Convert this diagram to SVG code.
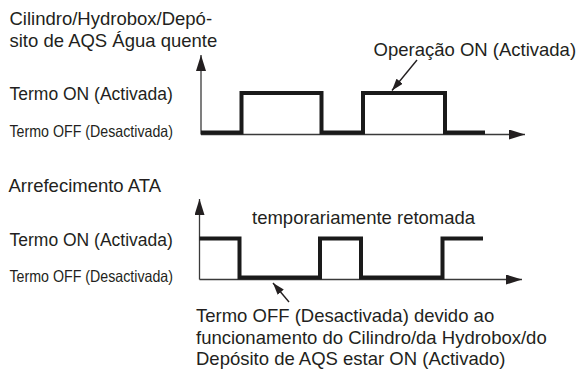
<svg xmlns="http://www.w3.org/2000/svg" width="580" height="371" viewBox="0 0 580 371">
  <defs>
    <marker id="axisHead" viewBox="0 0 16 10" refX="16" refY="5" markerWidth="16" markerHeight="10" markerUnits="userSpaceOnUse" orient="auto">
      <path d="M0,0 L16,5 L0,10 Z" fill="#231f20"/>
    </marker>
    <marker id="noteHead" viewBox="0 0 12 8" refX="12" refY="4" markerWidth="12" markerHeight="8" markerUnits="userSpaceOnUse" orient="auto">
      <path d="M0,0 L12,4 L0,8 Z" fill="#231f20"/>
    </marker>
    <style>
      text { font-family: "Liberation Sans", Arial, sans-serif; fill: #231f20; }
      .lbl { font-size: 18.5px; }
      .lvl { font-size: 17.5px; }
      .narrow { font-size: 16.5px; }
      .axis { stroke: #3a3a3a; stroke-width: 1.3; fill: none; }
      .wave { stroke: #1a1a1a; stroke-width: 4; fill: none; stroke-linejoin: miter; stroke-linecap: butt; }
      .note { stroke: #231f20; stroke-width: 1.4; fill: none; }
    </style>
  </defs>

  <g id="chart-top">
    <path class="axis" d="M201,134.5 V55" marker-end="url(#axisHead)"/>
    <path class="axis" d="M201,134.5 H525" marker-end="url(#axisHead)"/>
    <path class="wave" d="M201,132.5 H241.5 V93 H321.5 V132.5 H363 V93 H445 V132.5 H485"/>
  </g>

  <g id="chart-bottom">
    <path class="axis" d="M199.5,279.5 V199" marker-end="url(#axisHead)"/>
    <path class="axis" d="M199.5,279.5 H522" marker-end="url(#axisHead)"/>
    <path class="wave" d="M199.5,238.5 H239.5 V277.5 H320 V238.5 H361 V277.5 H442.5 V238.5 H483"/>
  </g>

  <g id="connectors">
    <path class="note" d="M417,60 L392,90.5" marker-end="url(#noteHead)"/>
    <path class="note" d="M289,302 L273,283" marker-end="url(#noteHead)"/>
  </g>

  <g id="labels">
    <text class="lbl" x="9.5" y="25">Cilindro/Hydrobox/Depó-</text>
    <text class="lbl" x="9.5" y="47">sito de AQS Água quente</text>
    <text class="lbl" x="373.5" y="56">Operação ON (Activada)</text>
    <text class="lvl" x="9.5" y="100">Termo ON (Activada)</text>
    <text class="narrow" x="9.5" y="136.5" textLength="163.5" lengthAdjust="spacingAndGlyphs">Termo OFF (Desactivada)</text>
    <text class="lbl" x="8.5" y="192">Arrefecimento ATA</text>
    <text class="lbl" x="252" y="224">temporariamente retomada</text>
    <text class="lvl" x="9.5" y="246">Termo ON (Activada)</text>
    <text class="narrow" x="9.5" y="281.5" textLength="163.5" lengthAdjust="spacingAndGlyphs">Termo OFF (Desactivada)</text>
    <text class="lbl" x="196" y="321.5">Termo OFF (Desactivada) devido ao</text>
    <text class="lbl" x="196" y="343.5">funcionamento do Cilindro/da Hydrobox/do</text>
    <text class="lbl" x="196" y="365">Depósito de AQS estar ON (Activado)</text>
  </g>
</svg>
